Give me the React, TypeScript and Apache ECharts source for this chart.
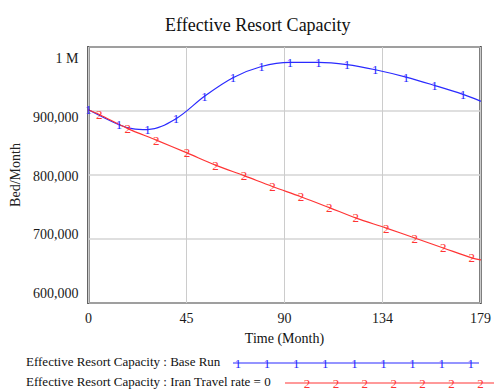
import React, { useEffect, useRef } from "react";
import * as echarts from "echarts";

const title = "Effective Resort Capacity";
const xName = "Time (Month)";
const yName = "Bed/Month";
const seriesNames = [
  "Effective Resort Capacity : Base Run",
  "Effective Resort Capacity : Iran Travel rate = 0",
];
const xTickLabels = ["0", "45", "90", "134", "179"];
const yTickLabels = ["600,000", "700,000", "800,000", "900,000", "1 M"];

const baseMonths = [0, 14, 20, 27, 40, 53, 66, 79, 92, 105, 118, 131, 145, 158, 171, 179];
const baseValues = [902000, 878500, 872500, 871000, 888000, 923000, 952000, 969500, 976000, 976000, 972500, 964500, 953000, 940000, 926000, 915500];
const baseMarkerMonths = [0, 14, 27, 40, 53, 66, 79, 92, 105, 118, 131, 145, 158, 171];

const iranMonths = [0, 5, 18, 31, 45, 58, 71, 84, 97, 110, 122, 136, 149, 162, 175, 179];
const iranValues = [902000, 894500, 872500, 854500, 834500, 815500, 799000, 782000, 766000, 749000, 733000, 717000, 701500, 686000, 670500, 667500];
const iranMarkerMonths = [5, 18, 31, 45, 58, 71, 84, 97, 110, 122, 136, 149, 162, 175];

const BLUE = "#2a2aff";
const RED = "#ff3434";
const SERIF = '"Liberation Serif", "Times New Roman", serif';

export default function App() {
  const ref = useRef<HTMLDivElement>(null);
  useEffect(() => {
    if (!ref.current) return;
    const chart = echarts.init(ref.current, null, { renderer: "svg" });
    const yShift = [-10, -5, 1, 6, 11];
    const rich: any = {};
    yShift.forEach((d, i) => {
      rich["s" + i] = {
        fontFamily: SERIF,
        fontSize: 14,
        color: "#1a1a1a",
        padding: d >= 0 ? [2 * d, 0, 0, 0] : [0, 0, -2 * d, 0],
      };
    });
    const mkSeries = (name: string, months: number[], values: number[], marks: number[], glyph: string, color: string) => ({
      name,
      type: "line",
      data: months.map((m, i) => [m, values[i]]),
      smooth: 0.35,
      symbol: "circle",
      symbolSize: 1,
      showAllSymbol: true,
      itemStyle: { color },
      lineStyle: { color, width: 1.2 },
      label: {
        show: true,
        position: "inside",
        formatter: (p: any) => (marks.indexOf(p.value[0]) >= 0 ? glyph : ""),
        fontFamily: SERIF,
        fontSize: 13,
        color,
      },
      labelLayout: { hideOverlap: false },
      emphasis: { disabled: true },
    });

    const legendGraphic: any[] = [];
    const leg = [
      { y: 363, x0: 233, x1: 479, m0: 238, step: 29.1, n: 9, glyph: "1", color: BLUE },
      { y: 383, x0: 285, x1: 494, m0: 307, step: 28.9, n: 7, glyph: "2", color: RED },
    ];
    leg.forEach((l, k) => {
      legendGraphic.push({
        type: "text",
        left: 26,
        top: l.y - 8,
        style: { text: seriesNames[k], font: `13px ${SERIF}`, fill: "#111" },
      });
      legendGraphic.push({
        type: "line",
        shape: { x1: l.x0, y1: l.y, x2: l.x1, y2: l.y },
        style: { stroke: l.color, lineWidth: 1.2 },
      });
      for (let i = 0; i < l.n; i++) {
        legendGraphic.push({
          type: "text",
          x: l.m0 + i * l.step,
          y: l.y,
          style: {
            text: l.glyph,
            font: `13px ${SERIF}`,
            fill: l.color,
            align: "center",
            verticalAlign: "middle",
          },
        });
      }
    });

    chart.setOption({
      animation: false,
      backgroundColor: "#fff",
      title: {
        text: title,
        left: 163,
        top: 11,
        padding: [5, 2, 5, 2],
        textStyle: { fontFamily: SERIF, fontSize: 18, fontWeight: "normal", color: "#111" },
      },
      grid: {
        left: 88,
        top: 47,
        right: 9,
        bottom: 87,
        show: true,
        borderColor: "#000",
        borderWidth: 2,
        containLabel: false,
      },
      xAxis: {
        type: "value",
        min: 0,
        max: 179,
        interval: 44.75,
        name: xName,
        nameLocation: "middle",
        nameGap: 28,
        nameTextStyle: { fontFamily: SERIF, fontSize: 14, color: "#111" },
        axisLine: { show: false },
        axisTick: { show: false },
        axisLabel: {
          margin: 8,
          fontFamily: SERIF,
          fontSize: 14,
          color: "#1a1a1a",
          formatter: (_v: number, i: number) => xTickLabels[i] ?? "",
        },
        splitLine: { show: true, lineStyle: { color: "#cccccc", width: 1 } },
      },
      yAxis: {
        type: "value",
        min: 600000,
        max: 1000000,
        interval: 100000,
        name: yName,
        nameLocation: "middle",
        nameGap: 64,
        nameTextStyle: { fontFamily: SERIF, fontSize: 14, color: "#222" },
        axisLine: { show: false },
        axisTick: { show: false },
        axisLabel: {
          margin: 10,
          formatter: (v: number) => {
            const i = Math.round((v - 600000) / 100000);
            return `{s${i}|${yTickLabels[i]}}`;
          },
          rich,
        },
        splitLine: { show: true, lineStyle: { color: "#d4d4d4", width: 1.6 } },
      },
      series: [
        mkSeries(seriesNames[0], baseMonths, baseValues, baseMarkerMonths, "1", BLUE),
        mkSeries(seriesNames[1], iranMonths, iranValues, iranMarkerMonths, "2", RED),
      ],
      graphic: legendGraphic,
    });
    return () => chart.dispose();
  }, []);
  return <div ref={ref} style={{ width: 494, height: 390, position: "absolute", left: 0, top: 0 }} />;
}
